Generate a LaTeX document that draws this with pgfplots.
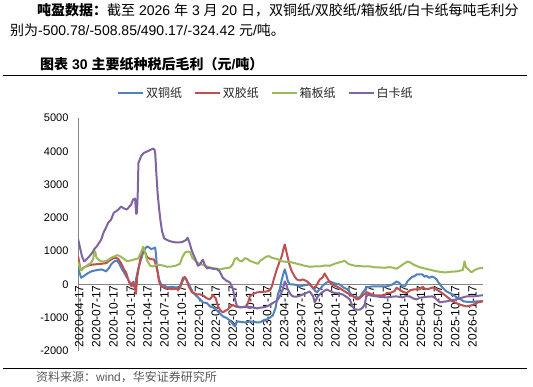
\documentclass[border=0pt]{standalone}
\usepackage{fontspec}
\setmainfont{Liberation Sans}
\newfontfamily\cjk{Noto Sans CJK SC}
\usepackage{pgfplots}
\pgfplotsset{compat=1.18}
\definecolor{sblue}{HTML}{4F81BD}
\definecolor{sred}{HTML}{C0504D}
\definecolor{sgreen}{HTML}{9BBB59}
\definecolor{spurple}{HTML}{8064A2}
\definecolor{axgray}{HTML}{868686}
\definecolor{srcgray}{HTML}{595959}
\begin{document}
\begin{tikzpicture}
\node[anchor=west,inner sep=0pt,font=\fontsize{14}{16}\selectfont] at (-41pt,341pt)
 {{\cjk\bfseries 吨盈数据：}{\cjk 截至} 2026 {\cjk 年} 3 {\cjk 月} 20 {\cjk 日，双铜纸}/{\cjk 双胶纸}/{\cjk 箱板纸}/{\cjk 白卡纸每吨毛利分}};
\node[anchor=west,inner sep=0pt,font=\fontsize{14}{16}\selectfont] at (-68pt,321pt)
 {{\cjk 别为}-500.78/-508.85/490.17/-324.42 {\cjk 元}/{\cjk 吨。}};
\node[anchor=west,inner sep=0pt,font=\fontsize{14}{16}\selectfont\bfseries] at (-38pt,287pt)
 {{\cjk 图表} 30 {\cjk 主要纸种税后毛利（元}/{\cjk 吨）}};
\draw[line width=1pt] (-75pt,275.3pt) -- (449pt,275.3pt);
\draw[line width=1pt] (-75pt,-17.3pt) -- (449pt,-17.3pt);
\node[anchor=west,inner sep=0pt,text=srcgray,font=\fontsize{12}{14}\selectfont] at (-42pt,-26pt)
 {{\cjk 资料来源：}wind{\cjk ，华安证券研究所}};
\begin{axis}[
  set layers,
  scale only axis, width=405pt, height=233pt,
  at={(0pt,0pt)}, anchor=south west,
  xmin=-1, xmax=2163, ymin=-2000, ymax=5000,
  axis x line=middle, axis y line=left,
  axis line style={draw=axgray, line width=0.9pt, -},
  major tick length=0pt,
  ytick={-2000,-1000,0,1000,2000,3000,4000,5000},
  yticklabel style={font=\fontsize{11}{12}\selectfont, /pgf/number format/assume math mode=true, /pgf/number format/1000 sep={}, xshift=-6pt},
  xtick={0,91,183,275,365,456,548,640,730,821,913,1005,1095,1186,1278,1370,1461,1552,1644,1736,1826,1917,2009,2101},
  xticklabels={2020-04-17,2020-07-17,2020-10-17,2021-01-17,2021-04-17,2021-07-17,2021-10-17,2022-01-17,2022-04-17,2022-07-17,2022-10-17,2023-01-17,2023-04-17,2023-07-17,2023-10-17,2024-01-17,2024-04-17,2024-07-17,2024-10-17,2025-01-17,2025-04-17,2025-07-17,2025-10-17,2026-01-17},
  xticklabel style={rotate=90, anchor=east, font=\fontsize{12}{12}\selectfont, inner sep=1pt, yshift=-1pt},
  legend columns=4,
  legend style={draw=none, fill=none, at={(0.464,1.107)}, anchor=center,
    font=\cjk\fontsize{12}{12}\selectfont, text=black!85,
    /tikz/every even column/.append style={column sep=10pt}},
  legend image code/.code={\draw[#1,line width=1.8pt] (0pt,0pt) -- (25pt,0pt);},
  every axis plot/.append style={line width=2pt, line join=round},
]
\addplot[sblue] coordinates {
(0,480) (10,300) (16,200) (30,250) (50,330) (69,390) (90,420) (123,450) (140,420) (149,390) (165,500) (176,600) (190,680) (203,720) (210,700) (220,620) (235,450) (245,360) (256,250) (267,150) (275,60) (285,20) (299,-60) (305,0) (309,150) (320,450) (330,650) (336,750) (347,960) (357,1080) (368,1140) (379,1110) (390,1060) (400,1080) (411,1110) (416,900) (421,500) (432,150) (443,0) (459,-30) (475,-90) (500,-70) (520,-90) (544,-90) (555,60) (565,180) (571,210) (580,120) (597,-60) (613,-240) (635,-360) (651,-450) (667,-540) (688,-560) (704,-660) (720,-690) (741,-780) (757,-870) (773,-960) (790,-1000) (811,-1080) (827,-1200) (837,-1260) (845,-1150) (853,-1110) (870,-1130) (891,-1140) (905,-1130) (917,-1110) (935,-1120) (955,-1140) (971,-1140) (990,-1080) (1008,-1050) (1024,-1000) (1040,-930) (1055,-700) (1067,-300) (1077,-150) (1088,150) (1098,350) (1104,450) (1112,300) (1120,100) (1131,0) (1150,0) (1168,-20) (1184,-60) (1210,-20) (1237,0) (1255,-120) (1275,-240) (1290,-150) (1310,-20) (1328,60) (1345,90) (1370,30) (1397,0) (1420,-100) (1440,-150) (1467,-360) (1490,-390) (1504,-390) (1520,-250) (1541,-90) (1570,-60) (1595,-60) (1620,-60) (1648,-60) (1680,0) (1701,90) (1715,50) (1730,-60) (1745,-60) (1760,100) (1781,210) (1800,260) (1808,300) (1825,300) (1840,300) (1850,230) (1860,260) (1875,200) (1890,240) (1905,200) (1915,150) (1925,60) (1941,-60) (1968,-210) (2000,-300) (2020,-380) (2037,-420) (2060,-510) (2075,-520) (2100,-530) (2130,-510) (2163,-501)
};
\addlegendentry{双铜纸}
\addplot[sred] coordinates {
(0,840) (10,500) (16,450) (35,520) (59,580) (85,600) (123,620) (150,640) (176,750) (190,790) (203,800) (215,760) (229,640) (245,450) (256,360) (267,150) (275,30) (285,-60) (295,80) (300,-50) (309,-280) (315,200) (325,540) (336,900) (347,990) (357,980) (368,820) (385,760) (405,750) (415,600) (425,350) (432,90) (443,-60) (459,-90) (475,-120) (500,-140) (520,-130) (539,-150) (550,30) (560,200) (571,220) (580,120) (590,-50) (608,-240) (635,-300) (651,-300) (667,-330) (688,-420) (704,-450) (720,-320) (735,-420) (747,-660) (760,-780) (773,-840) (790,-780) (800,-750) (815,-660) (827,-620) (845,-670) (864,-690) (880,-680) (901,-660) (910,-500) (917,-360) (933,-290) (955,-240) (971,-230) (990,-220) (1008,-210) (1024,-180) (1035,-60) (1045,150) (1061,450) (1077,700) (1088,850) (1098,1100) (1104,1200) (1112,1000) (1120,800) (1131,550) (1141,400) (1155,250) (1168,150) (1184,120) (1200,150) (1220,100) (1237,20) (1253,-90) (1264,-120) (1280,40) (1291,150) (1305,200) (1317,330) (1330,200) (1345,60) (1360,-20) (1381,-60) (1400,-120) (1413,-170) (1435,-250) (1460,-330) (1477,-380) (1488,-450) (1504,-420) (1520,-330) (1541,-230) (1560,-280) (1585,-330) (1611,-330) (1637,-330) (1648,-260) (1670,-250) (1690,-200) (1701,-100) (1715,-150) (1735,-220) (1755,-260) (1775,-170) (1795,-150) (1824,-150) (1840,-70) (1855,-140) (1875,-130) (1893,-90) (1910,-140) (1931,-210) (1950,-280) (1968,-360) (1985,-440) (2000,-510) (2020,-560) (2037,-600) (2060,-640) (2075,-660) (2095,-640) (2110,-610) (2135,-540) (2163,-509)
};
\addlegendentry{双胶纸}
\addplot[sgreen] coordinates {
(0,680) (10,480) (16,420) (30,500) (50,580) (69,650) (80,760) (85,960) (91,990) (97,820) (105,760) (123,690) (150,700) (176,800) (197,850) (210,880) (229,830) (245,760) (261,700) (280,720) (300,750) (320,780) (336,960) (347,1130) (357,980) (368,720) (385,560) (400,540) (420,600) (440,580) (459,560) (475,530) (500,540) (520,560) (544,620) (555,800) (571,960) (585,990) (597,970) (610,800) (624,720) (640,640) (660,600) (688,540) (704,510) (720,490) (741,470) (757,450) (780,480) (811,510) (825,600) (837,760) (848,800) (860,720) (875,690) (891,790) (905,760) (920,700) (940,660) (960,620) (971,700) (990,780) (1008,840) (1020,850) (1035,800) (1050,780) (1065,760) (1077,720) (1093,690) (1110,680) (1131,680) (1155,640) (1184,600) (1210,560) (1237,530) (1260,540) (1290,540) (1320,570) (1344,560) (1370,620) (1400,670) (1424,710) (1440,630) (1451,600) (1480,560) (1504,550) (1530,540) (1560,540) (1590,510) (1611,510) (1640,500) (1664,520) (1685,500) (1701,470) (1720,540) (1740,620) (1760,690) (1775,660) (1790,600) (1810,550) (1824,520) (1850,480) (1880,440) (1910,400) (1931,380) (1960,360) (1990,380) (2020,390) (2037,410) (2055,430) (2064,690) (2072,520) (2085,450) (2101,360) (2115,420) (2130,460) (2145,490) (2163,490)
};
\addlegendentry{箱板纸}
\addplot[spurple] coordinates {
(0,1350) (10,1100) (20,850) (32,690) (45,760) (59,840) (75,950) (85,1050) (100,1150) (123,1350) (135,1550) (149,1710) (160,1850) (176,1950) (190,2150) (203,2200) (215,2250) (229,2340) (245,2280) (261,2250) (272,2330) (283,2400) (293,2550) (304,2580) (310,2120) (314,2150) (318,2700) (322,3650) (336,3850) (350,3950) (363,3980) (378,4020) (389,4050) (400,4080) (408,4050) (412,3900) (418,3300) (425,2700) (432,2300) (440,1900) (448,1600) (460,1380) (469,1350) (490,1300) (512,1270) (530,1260) (555,1270) (575,1330) (585,1400) (595,1250) (605,1050) (615,900) (625,780) (640,560) (651,600) (660,700) (667,740) (675,600) (688,480) (700,500) (720,470) (741,460) (755,400) (773,200) (790,120) (811,60) (825,-100) (837,-420) (848,-650) (865,-680) (880,-680) (901,-670) (920,-680) (933,-690) (955,-720) (971,-700) (990,-690) (1008,-660) (1024,-620) (1040,-560) (1051,-520) (1061,-500) (1077,-360) (1093,-150) (1104,90) (1112,0) (1120,-150) (1135,-300) (1147,-360) (1165,-370) (1184,-340) (1210,-280) (1237,-210) (1255,-350) (1264,-540) (1272,-450) (1280,-360) (1300,-250) (1328,-150) (1345,-200) (1360,-240) (1385,-270) (1413,-300) (1435,-380) (1451,-450) (1465,-650) (1477,-750) (1504,-760) (1520,-700) (1531,-600) (1541,-300) (1560,-330) (1595,-360) (1620,-380) (1648,-390) (1675,-370) (1701,-360) (1733,-390) (1750,-350) (1771,-360) (1790,-420) (1808,-450) (1825,-400) (1840,-390) (1865,-370) (1893,-360) (1910,-420) (1931,-540) (1950,-520) (1968,-510) (2000,-470) (2021,-450) (2050,-400) (2075,-360) (2110,-360) (2140,-340) (2163,-324)
};
\addlegendentry{白卡纸}
\end{axis}
\pgfresetboundingbox
\path[use as bounding box] (-78pt,-36pt) rectangle (455pt,351pt);
\end{tikzpicture}
\end{document}
